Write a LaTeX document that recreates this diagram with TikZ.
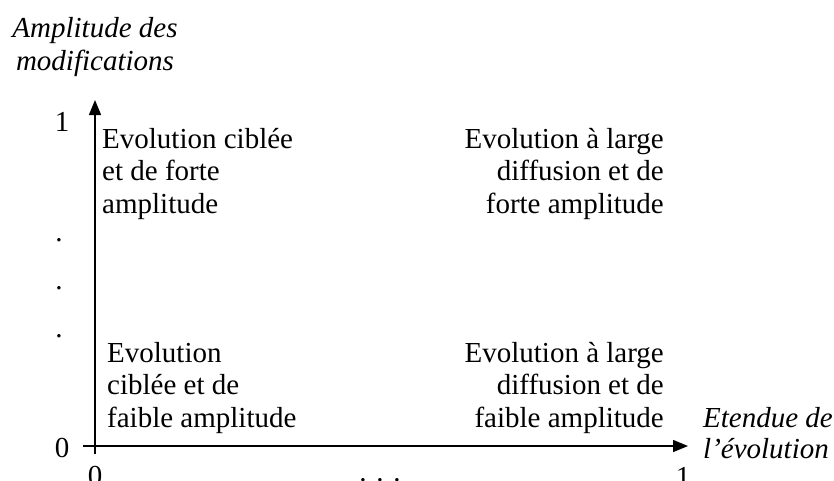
\documentclass[tikz,border=0pt]{standalone}
\usepackage{fontspec}
\setmainfont{Liberation Serif}
\usetikzlibrary{arrows.meta}
\begin{document}
\begin{tikzpicture}[x=1pt,y=-1pt,
  txt/.style={inner sep=0pt, font=\fontsize{29}{33}\selectfont},
  lbl/.style={inner sep=0pt, font=\fontsize{29}{33}\selectfont\itshape},
  axis/.style={line width=1.5pt, -{Triangle[length=15pt,width=12pt]}}]
\useasboundingbox (0,0) rectangle (834,480);
% axes
\coordinate (ystart) at (95,454);
\coordinate (ytip) at (95,100);
\coordinate (xstart) at (83,446);
\coordinate (xtip) at (688,446);
\draw[axis] (ystart) -- (ytip);
\draw[axis] (xstart) -- (xtip);
% axis titles
\node[lbl, anchor=base] (ya) at (95,37) {Amplitude des};
\node[lbl, anchor=base] (yb) at (95,70) {modifications};
\node[lbl, anchor=base west] (xa) at (703,427) {Etendue de};
\node[lbl, anchor=base west] (xb) at (703,458) {l’évolution};
% ticks labels
\node[txt, anchor=base] (y1) at (62,131) {1};
\node[txt, anchor=base] (y0) at (62,457) {0};
\node[txt, anchor=base] (x0) at (95,485) {0};
\node[txt, anchor=base] (x1) at (683,486) {1};
\node[txt, anchor=base] (d1) at (59,241) {.};
\node[txt, anchor=base] (d2) at (59,289) {.};
\node[txt, anchor=base] (d3) at (59,337) {.};
\node[txt, anchor=base] (dx) at (380,481) {. . .};
% quadrant texts
\node[txt, anchor=base west] (tl1) at (102,148) {Evolution ciblée};
\node[txt, anchor=base west] (tl2) at (102,180) {et de forte};
\node[txt, anchor=base west] (tl3) at (102,213) {amplitude};
\node[txt, anchor=base east] (tr1) at (664,148) {Evolution à large};
\node[txt, anchor=base east] (tr2) at (664,180) {diffusion et de};
\node[txt, anchor=base east] (tr3) at (664,213) {forte amplitude};
\node[txt, anchor=base west] (bl1) at (107,362) {Evolution};
\node[txt, anchor=base west] (bl2) at (107,394) {ciblée et de};
\node[txt, anchor=base west] (bl3) at (107,427) {faible amplitude};
\node[txt, anchor=base east] (br1) at (664,362) {Evolution à large};
\node[txt, anchor=base east] (br2) at (664,394) {diffusion et de};
\node[txt, anchor=base east] (br3) at (664,427) {faible amplitude};
\end{tikzpicture}
\end{document}
